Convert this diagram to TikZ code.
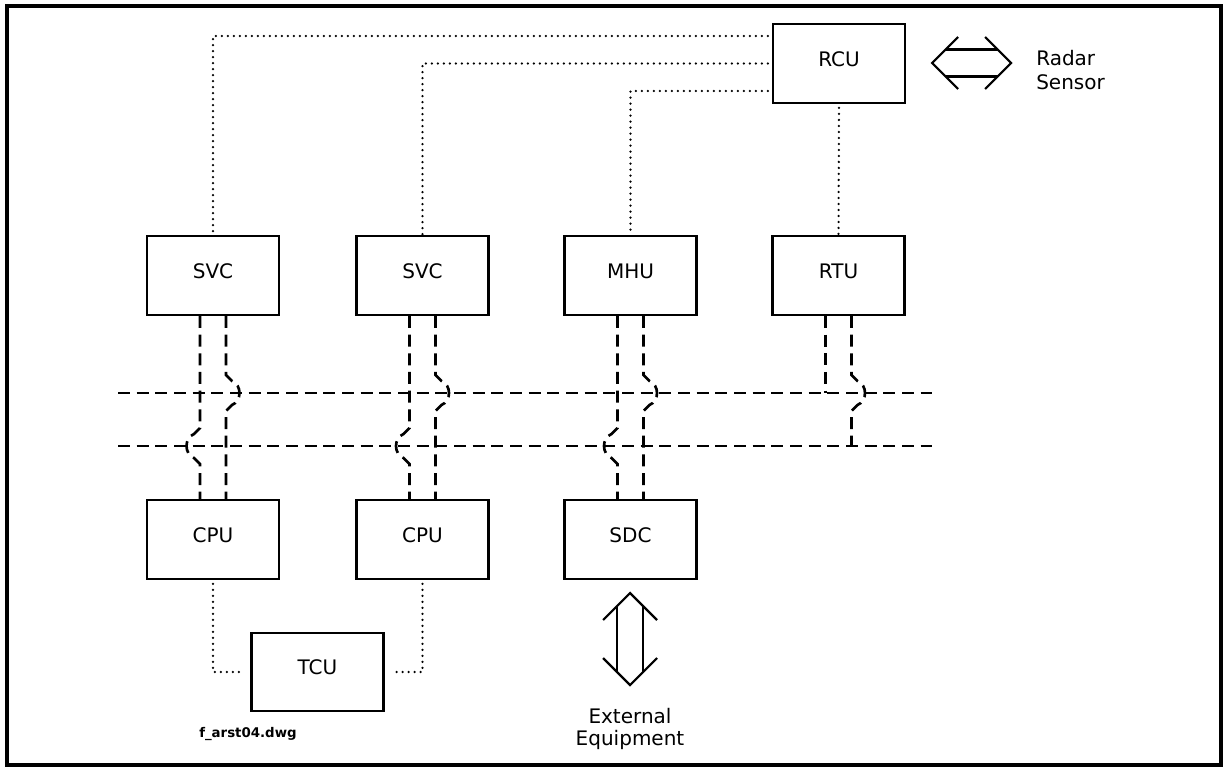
\documentclass[tikz,border=0pt]{standalone}
\usepackage{fontspec}
\setmainfont{DejaVu Sans}
\usetikzlibrary{calc}

\begin{document}
\begin{tikzpicture}[x=0.75pt,y=-0.75pt,
  box/.style={draw, line width=1.7pt, minimum width=99pt, minimum height=59pt,
    inner sep=0pt, text depth=7pt, font=\fontsize{15pt}{18pt}\selectfont},
  bus/.style={line width=2pt, dash pattern=on 9pt off 5pt},
  dotline/.style={line width=1.9pt, line cap=round, dash pattern=on 0pt off 4.5pt},
  sym/.style={line width=1.6pt, line join=miter},
  lbl/.style={font=\fontsize{15pt}{18pt}\selectfont, inner sep=0pt}]

\useasboundingbox (0,0) rectangle (1228,770);
% drawing frame
\draw[line width=2.3pt] (7,6) rectangle (1221,765);

% units
\node[box] (rcu)  at (839,63.5)    {RCU};
\node[box] (svc1) at (213,275.5)   {SVC};
\node[box] (svc2) at (422.5,275.5) {SVC};
\node[box] (mhu)  at (630.5,275.5) {MHU};
\node[box] (rtu)  at (838.5,275.5) {RTU};
\node[box] (cpu1) at (213,539.5)   {CPU};
\node[box] (cpu2) at (422.5,539.5) {CPU};
\node[box] (sdc)  at (630.5,539.5) {SDC};
\node[box] (tcu)  at (317.5,672)   {TCU};

% the two buses
\coordinate (busAw) at (118,393);
\coordinate (busAe) at (932,393);
\coordinate (busBw) at (118,446);
\coordinate (busBe) at (932,446);
\draw[bus] (busAw) -- (busAe);
\draw[bus] (busBw) -- (busBe);

% drop points of the bus connections
\foreach \u/\l in {svc1/cpu1, svc2/cpu2, mhu/sdc}{
  \coordinate (\u L) at ($(\u.south)+(-13,0)$);
  \coordinate (\u R) at ($(\u.south)+(13,0)$);
  \coordinate (\l L) at ($(\l.north)+(-13,0)$);
  \coordinate (\l R) at ($(\l.north)+(13,0)$);
}
\coordinate (rtuL) at ($(rtu.south)+(-13,0)$);
\coordinate (rtuR) at ($(rtu.south)+(13,0)$);

% left line: joins bus A, jumps bus B; right line: jumps bus A, joins bus B
\foreach \u/\l in {svc1/cpu1, svc2/cpu2, mhu/sdc}{
  \draw[bus] (\u L) -- ($(\u L |- busBw)+(0,-18)$) -- ++(-6,6)
    .. controls +(-10,4) and +(-10,-4) .. ++(0,24) -- ++(6,6) -- (\l L);
  \draw[bus] (\u R) -- ($(\u R |- busAw)+(0,-18)$) -- ++(6,6)
    .. controls +(10,4) and +(10,-4) .. ++(0,24) -- ++(-6,6) -- (\l R);
}
\draw[bus] (rtuL) -- (rtuL |- busAw);
\draw[bus] (rtuR) -- ($(rtuR |- busAw)+(0,-18)$) -- ++(6,6)
  .. controls +(10,4) and +(10,-4) .. ++(0,24) -- ++(-6,6) -- (rtuR |- busBw);

% dotted control links
\coordinate (rcuA) at ($(rcu.north west)+(0,13)$);
\coordinate (rcuB) at (rcu.west);
\coordinate (rcuC) at ($(rcu.south west)+(0,-13)$);
\draw[dotline] ($(rcuA)+(-4,0)$) -| (svc1.north);
\draw[dotline] ($(rcuB)+(-4,0)$) -| (svc2.north);
\draw[dotline] ($(rcuC)+(-4,0)$) -| (mhu.north);
\draw[dotline] ($(rcu.south)+(0,4)$) -- (rtu.north);
\draw[dotline] ($(cpu1.south)+(0,4)$) |- ($(tcu.west)+(-6,0)$);
\draw[dotline] ($(cpu2.south)+(0,4)$) |- ($(tcu.east)+(6,0)$);

% radar sensor double arrow
\coordinate (radar) at (971.5,63);
\draw[sym] ($(radar)+(-13.5,-26)$) -- ($(radar)+(-39.5,0)$) -- ($(radar)+(-13.5,26)$);
\draw[sym] ($(radar)+(13.5,-26)$) -- ($(radar)+(39.5,0)$) -- ($(radar)+(13.5,26)$);
\draw[sym] ($(radar)+(-26,-13.5)$) -- ($(radar)+(26,-13.5)$);
\draw[sym] ($(radar)+(-26,13.5)$) -- ($(radar)+(26,13.5)$);
\node[lbl, anchor=west, align=left] (radartxt) at (1036,70) {Radar\\Sensor};

% external equipment double arrow
\coordinate (ext) at (630,639);
\draw[sym] ($(ext)+(-27,-19)$) -- ($(ext)+(0,-46)$) -- ($(ext)+(27,-19)$);
\draw[sym] ($(ext)+(-27,19)$) -- ($(ext)+(0,46)$) -- ($(ext)+(27,19)$);
\draw[sym] ($(ext)+(-13,-33)$) -- ($(ext)+(-13,33)$);
\draw[sym] ($(ext)+(13,-33)$) -- ($(ext)+(13,33)$);
\node[lbl, align=center, font=\fontsize{15pt}{16.5pt}\selectfont] (exttxt) at (630,729) {External\\Equipment};

% drawing file name
\node[inner sep=0pt, anchor=west, font=\fontsize{10pt}{11pt}\selectfont\bfseries] (fname) at (199,734) {f\_arst04.dwg};
\end{tikzpicture}
\end{document}
